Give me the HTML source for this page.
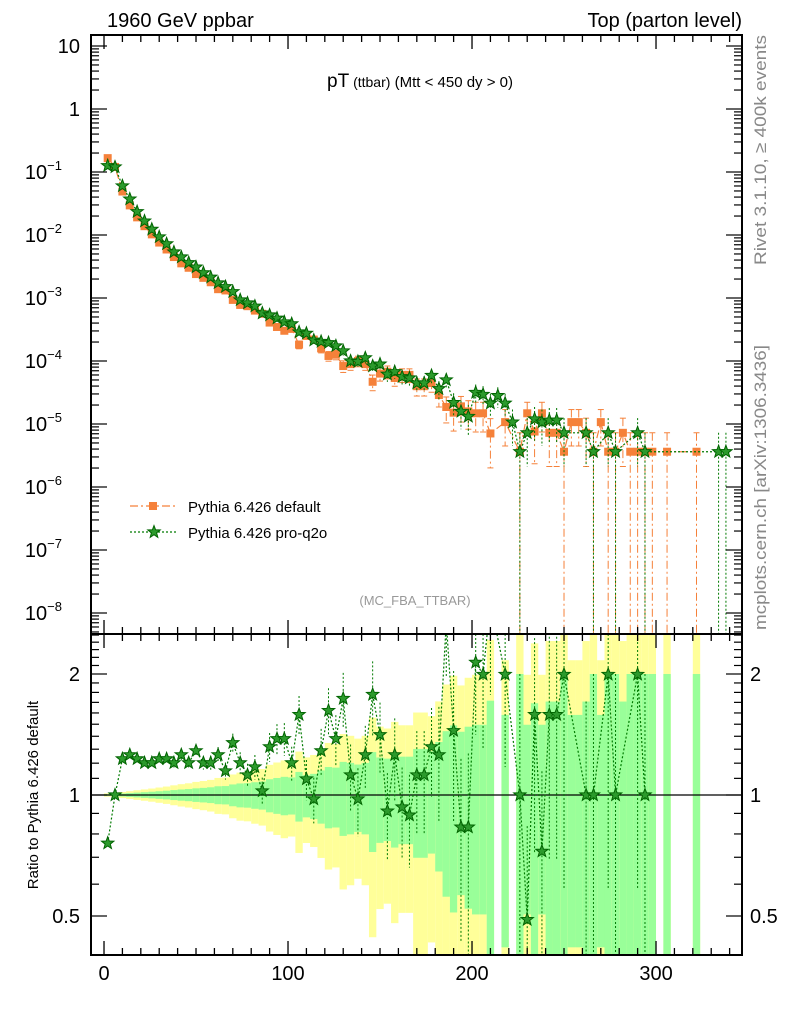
<!DOCTYPE html>
<html><head><meta charset="utf-8"><style>
html,body{margin:0;padding:0;background:#fff;width:786px;height:1024px;overflow:hidden}
svg{display:block;font-family:"Liberation Sans",sans-serif}
</style></head><body>
<svg id="chart" width="786" height="1024" viewBox="0 0 786 1024" xmlns="http://www.w3.org/2000/svg">
<defs>
<clipPath id="clipTop"><rect x="91" y="35" width="651" height="599"/></clipPath>
<clipPath id="clipRat"><rect x="91" y="634" width="651" height="321"/></clipPath>
</defs>
<g id="bands" clip-path="url(#clipRat)"></g>
<g id="marks"></g>
<g id="axes"></g>
<text x="107" y="27" font-size="20">1960 GeV ppbar</text>
<text x="742" y="27" font-size="20" text-anchor="end">Top (parton level)</text>
<text x="420" y="87" text-anchor="middle"><tspan font-size="19">pT</tspan><tspan font-size="14"> (ttbar)</tspan><tspan font-size="15"> (Mtt &lt; 450 dy &gt; 0)</tspan></text>
<text x="415" y="605" font-size="13" fill="#999" text-anchor="middle">(MC_FBA_TTBAR)</text>
<text transform="translate(766,265) rotate(-90)" font-size="17" fill="#888" textLength="230" lengthAdjust="spacingAndGlyphs">Rivet 3.1.10, ≥ 400k events</text>
<text transform="translate(766,630) rotate(-90)" font-size="17" fill="#888" textLength="285" lengthAdjust="spacingAndGlyphs">mcplots.cern.ch [arXiv:1306.3436]</text>
<text transform="translate(38,795) rotate(-90)" font-size="15" text-anchor="middle">Ratio to Pythia 6.426 default</text>
<g>
<g>
<line x1="130" y1="506" x2="178" y2="506" stroke="#f5813a" stroke-width="1.2" stroke-dasharray="8,3,2,3"/>
<rect x="149" y="502" width="8" height="8" fill="#f5813a"/>
<text x="188" y="512" font-size="15">Pythia 6.426 default</text></g>
<g>
<line x1="130" y1="532" x2="178" y2="532" stroke="#007a00" stroke-width="1.2" stroke-dasharray="2,2"/>
<path id="legstar" d="" fill="#2c9a2c" stroke="#006400" stroke-width="1"/>
<text x="188" y="538" font-size="15">Pythia 6.426 pro-q2o</text></g>
</g>
</svg>
<script>
const binCenters = [2,6,10,14,18,22,26,30,34,38,42,46,50,54,58,62,66,70,74,78,82,86,90,94,98,102,106,110,114,118,122,126,130,134,138,142,146,150,154,158,162,166,170,174,178,182,186,190,194,198,202,206,210,214,218,222,226,230,234,238,242,246,250,254,258,262,266,270,274,278,282,286,290,294,298,302,306,310,314,318,322,326,330,334,338];
const defaultLog = [-0.78,-0.92,-1.31,-1.53,-1.72,-1.86,-1.99,-2.12,-2.23,-2.35,-2.45,-2.52,-2.62,-2.68,-2.75,-2.86,-2.88,-3.03,-3.11,-3.13,-3.2,-3.25,-3.39,-3.46,-3.52,-3.49,-3.74,-3.6,-3.66,-3.8,-3.92,-3.9,-4.08,-4.05,-4.0,-4.05,-4.33,-4.2,-4.17,-4.27,-4.22,-4.22,-4.4,-4.4,-4.35,-4.54,-4.73,-4.82,-4.72,-4.8,-4.83,-4.83,-5.15,null,-4.97,null,-5.44,-4.83,-5.12,-4.83,-5.14,-5.14,-5.44,-4.97,-4.97,-5.14,-5.44,-4.97,-5.44,-5.44,-5.14,-5.44,-5.44,-5.44,-5.44,null,-5.44,null,null,null,-5.44,null,null,null,null];
const proLog = [-0.9,-0.92,-1.22,-1.43,-1.63,-1.78,-1.91,-2.03,-2.14,-2.27,-2.35,-2.44,-2.51,-2.6,-2.67,-2.76,-2.82,-2.9,-3.03,-3.08,-3.13,-3.24,-3.27,-3.32,-3.38,-3.41,-3.54,-3.56,-3.67,-3.69,-3.71,-3.76,-3.84,-4.0,-4.01,-3.95,-4.08,-4.05,-4.21,-4.17,-4.25,-4.27,-4.35,-4.35,-4.23,-4.44,-4.3,-4.66,-4.8,-4.88,-4.5,-4.53,-4.67,-4.55,-4.67,-4.97,-5.44,-5.14,-4.92,-4.97,-4.94,-4.94,-5.14,null,null,-5.14,-5.44,null,-5.14,-5.44,null,null,-5.14,-5.44,null,null,null,null,null,null,null,null,null,-5.44,-5.44];
const yTicksTop = ["10","1","10","10","10","10","10","10","10","10"];
const yTickExp = ["","","−1","−2","−3","−4","−5","−6","−7","−8"];
const xTickLabels = [0,100,200,300];
const ratioTickLabels = ["2","1","0.5"];
const ratioTickValues = [2,1,0.5];

const NS="http://www.w3.org/2000/svg";
const X=v=>91+(v+7.07)*(651/353.8);
const YT=l=>46+(1-l)*63;
const YRraw=r=>795-121*Math.log2(r);
const YR=r=>Math.min(955,Math.max(634,YRraw(r)));
const WEIGHT_LOG=-5.44;
function mk(tag,attrs,parent){const e=document.createElementNS(NS,tag);for(const k in attrs)e.setAttribute(k,attrs[k]);parent.appendChild(e);return e;}
function starPath(cx,cy,R){const r=R*0.42;let d="";for(let i=0;i<10;i++){const a=-Math.PI/2+i*Math.PI/5;const rr=i%2?r:R;d+=(i?"L":"M")+(cx+rr*Math.cos(a)).toFixed(1)+","+(cy+rr*Math.sin(a)).toFixed(1);}return d+"Z";}
document.getElementById('legstar').setAttribute('d',starPath(154,532,6.5));
const bands=document.getElementById('bands'),marks=document.getElementById('marks'),axes=document.getElementById('axes');
const relErr=l=>1/Math.sqrt(Math.pow(10,l-WEIGHT_LOG));
const clampR=r=>Math.max(r,0.05);

binCenters.forEach((c,i)=>{const l=defaultLog[i];if(l===null)return;const e=relErr(l);
 const x0=X(c-2),w=X(c+2)-X(c-2);
 const yu=YR(1+2*e),yl=YR(clampR(1-2*e));
 const y=mk('rect',{x:x0,y:yu,width:w,height:yl-yu,fill:'#ffff99'},bands);
 
 
 const gu=YR(1+e),gl=YR(clampR(1-e));
 const g=mk('rect',{x:x0,y:gu,width:w,height:gl-gu,fill:'#99ff99'},bands);
 
 
});

const topG=mk('g',{'clip-path':'url(#clipTop)'},marks);
const ratG=mk('g',{'clip-path':'url(#clipRat)'},marks);
mk('line',{x1:91,y1:YR(1),x2:742,y2:YR(1),stroke:'#000','stroke-width':1.2},ratG);

function drawSeries(vals,color,dash,kind){
 let pts=[];
 vals.forEach((l,i)=>{if(l===null)return;const cx=X(binCenters[i]),cy=YT(l);pts.push([cx,cy]);
  const e=relErr(l);const v=Math.pow(10,l);
  const yu=YT(Math.log10(v*(1+e))),yl=(1-e)>0.001?YT(Math.log10(v*(1-e))):634;
  const eb=mk('line',{x1:cx,y1:yu,x2:cx,y2:yl,stroke:color,'stroke-width':1,'stroke-dasharray':dash},topG);
  
  
  if(kind==='default'){mk('line',{x1:cx-3,y1:yu,x2:cx+3,y2:yu,stroke:color},topG);if(yl<634)mk('line',{x1:cx-3,y1:yl,x2:cx+3,y2:yl,stroke:color},topG);}
 });
 const pl=mk('polyline',{points:pts.map(p=>p.join(',')).join(' '),fill:'none',stroke:color,'stroke-width':1.2,'stroke-dasharray':dash},topG);
 
 
 vals.forEach((l,i)=>{if(l===null)return;const cx=X(binCenters[i]),cy=YT(l);let m;
  if(kind==='default'){m=mk('rect',{x:cx-4,y:cy-4,width:8,height:8,fill:color},topG);}
  else{m=mk('path',{d:starPath(cx,cy,6.5),fill:'#2c9a2c',stroke:'#006400','stroke-width':1},topG);}
  
  
 });
}
drawSeries(defaultLog,'#f5813a','8,3,2,3','default');
drawSeries(proLog,'#007a00','2,2','pro-q2o');

let rp=[];
binCenters.forEach((c,i)=>{const a=proLog[i],b=defaultLog[i];if(a===null||b===null)return;
 const r=Math.pow(10,a-b);const cx=X(c),cy=YRraw(r);rp.push([cx,cy]);
 const e=relErr(a);
 const eb=mk('line',{x1:cx,y1:YR(r*(1+e)),x2:cx,y2:YR(clampR(r*(1-e))),stroke:'#007a00','stroke-dasharray':'2,2'},ratG);
 
 
});
const rl=mk('polyline',{points:rp.map(p=>p.join(',')).join(' '),fill:'none',stroke:'#007a00','stroke-width':1.2,'stroke-dasharray':'2,2'},ratG);


rp.forEach(p=>{if(p[1]<628||p[1]>961)return;const m=mk('path',{d:starPath(p[0],p[1],6.5),fill:'#2c9a2c',stroke:'#006400','stroke-width':1},ratG);
 
 });

mk('rect',{x:91,y:35,width:651,height:599,fill:'none',stroke:'#000','stroke-width':2},axes);
mk('rect',{x:91,y:634,width:651,height:321,fill:'none',stroke:'#000','stroke-width':2},axes);
for(let v=0;v<=340;v+=10){const x=X(v);const L=v%100===0?14:7;
 [[35,1],[634,-1],[634,1],[955,-1]].forEach(([y,s])=>mk('line',{x1:x,y1:y,x2:x,y2:y+s*L,stroke:'#000','stroke-width':1.3},axes));}
xTickLabels.forEach(v=>{const t=mk('text',{x:X(v),y:980,'font-size':20,'text-anchor':'middle'},axes);t.textContent=v;
 
 });
for(let d=-9;d<=1;d++){for(let k=1;k<=9;k++){const l=d+Math.log10(k);const y=YT(l);if(y<36||y>633)continue;const L=k===1?16:8;
 mk('line',{x1:91,y1:y,x2:91+L,y2:y,stroke:'#000','stroke-width':1.2},axes);
 mk('line',{x1:742,y1:y,x2:742-L,y2:y,stroke:'#000','stroke-width':1.2},axes);}}
yTicksTop.forEach((s,i)=>{const y=YT(1-i);const t=mk('text',{x:80,y:y+7,'font-size':20,'text-anchor':'end'},axes);
 if(yTickExp[i]){t.setAttribute('x',62);t.textContent=s;const ts=mk('tspan',{'font-size':13,dy:-9},t);ts.textContent=yTickExp[i];}else t.textContent=s;
 
 });
for(let r=0.4;r<=2.55;r+=0.1){const rr=Math.round(r*10)/10;const y=YRraw(rr);if(y<635||y>954)continue;const L=(rr===1||rr===2||rr===0.5)?16:8;
 mk('line',{x1:91,y1:y,x2:91+L,y2:y,stroke:'#000','stroke-width':1.2},axes);
 mk('line',{x1:742,y1:y,x2:742-L,y2:y,stroke:'#000','stroke-width':1.2},axes);}
ratioTickLabels.forEach((s,i)=>{const y=YRraw(ratioTickValues[i])+7;
 const a=mk('text',{x:80,y:y,'font-size':20,'text-anchor':'end'},axes);a.textContent=s;
 
 
 const b=mk('text',{x:750,y:y,'font-size':20},axes);b.textContent=s;
 
 });
</script>
</body></html>
